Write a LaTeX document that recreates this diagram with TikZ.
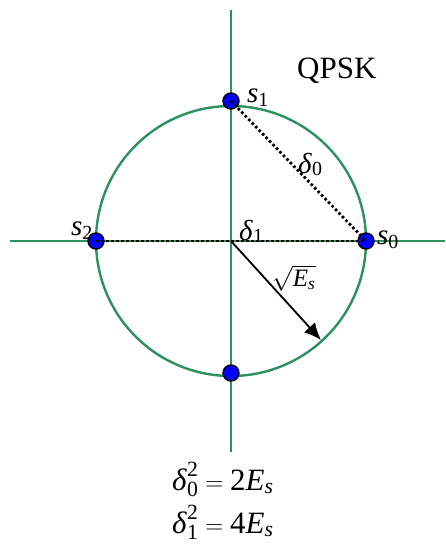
\documentclass[tikz,border=0pt]{standalone}
\usepackage{amsmath}
\usepackage{fontspec}
\setmainfont{Liberation Serif}
\newfontfamily\tms{Liberation Serif}
\usetikzlibrary{arrows.meta}
\definecolor{axgreen}{RGB}{44,145,95}
\definecolor{ptblue}{RGB}{0,0,255}
\newcommand\fs[1]{\fontsize{#1}{#1}\selectfont}
\tikzset{
  axis/.style={axgreen, line width=2pt},
  ring/.style={axgreen, line width=2.4pt},
  pt/.style={circle, fill=ptblue, draw=black, line width=1.4pt, minimum size=16pt, inner sep=0pt},
  dist/.style={black, line width=2.8pt, dash pattern=on 2.6pt off 2.4pt},
  lbl/.style={anchor=base west, inner sep=0pt, font=\tms\fs{29}},
}
\begin{document}
\begin{tikzpicture}[x=1pt,y=-1pt]
\useasboundingbox (0,0) rectangle (445,544);
\coordinate (o) at (231,241);
\coordinate (top) at (231,10);
\coordinate (bot) at (231,452);
\coordinate (left) at (10,241);
\coordinate (right) at (445,241);
\draw[axis] (top) -- (bot);
\draw[axis] (left) -- (right);
\draw[ring] (o) circle (135);
\node[pt] (s1) at (231,101) {};
\node[pt] (s2) at (96,241) {};
\node[pt] (s0) at (366,241) {};
\node[pt] (s3) at (231,373) {};
\draw[dist] (s1.center) -- (s0.center);
\draw[dist] (s2.center) -- (s0.center);
\coordinate (tip) at (321,340);
\draw[line width=1.8pt, -{Latex[length=17pt,width=15pt]}] (o) -- (tip);
\node[lbl] (l1) at (247,102) {\textit{s}\raisebox{-0.15em}{\fs{20}1}};
\node[lbl] (l2) at (71,235) {\textit{s}\raisebox{-0.15em}{\fs{20}2}};
\node[lbl] (l0) at (377,244) {\textit{s}\raisebox{-0.15em}{\fs{20}0}};
\node[lbl] (d1) at (239,240) {\textit{δ}\raisebox{-0.1em}{\fs{20}1}};
\node[lbl] (d0) at (298,173) {\textit{δ}\raisebox{-0.1em}{\fs{20}0}};
\node[anchor=base west, inner sep=0pt, font=\tms\fs{25}] (rt) at (272,286) {$\sqrt{\text{\textit{E}}_{\text{\textit{s}}}}$};
\node[anchor=base west, inner sep=0pt, font=\tms\fs{31}] (q) at (297,78) {QPSK};
\node[anchor=base west, inner sep=0pt, font=\tms\fs{31}] (e1) at (172,490) {$\text{\textit{δ}}^{\text{2}}_{\text{0}} = \text{2\textit{E}}_{\text{\textit{s}}}$};
\node[anchor=base west, inner sep=0pt, font=\tms\fs{31}] (e2) at (172,533) {$\text{\textit{δ}}^{\text{2}}_{\text{1}} = \text{4\textit{E}}_{\text{\textit{s}}}$};
\end{tikzpicture}
\end{document}
